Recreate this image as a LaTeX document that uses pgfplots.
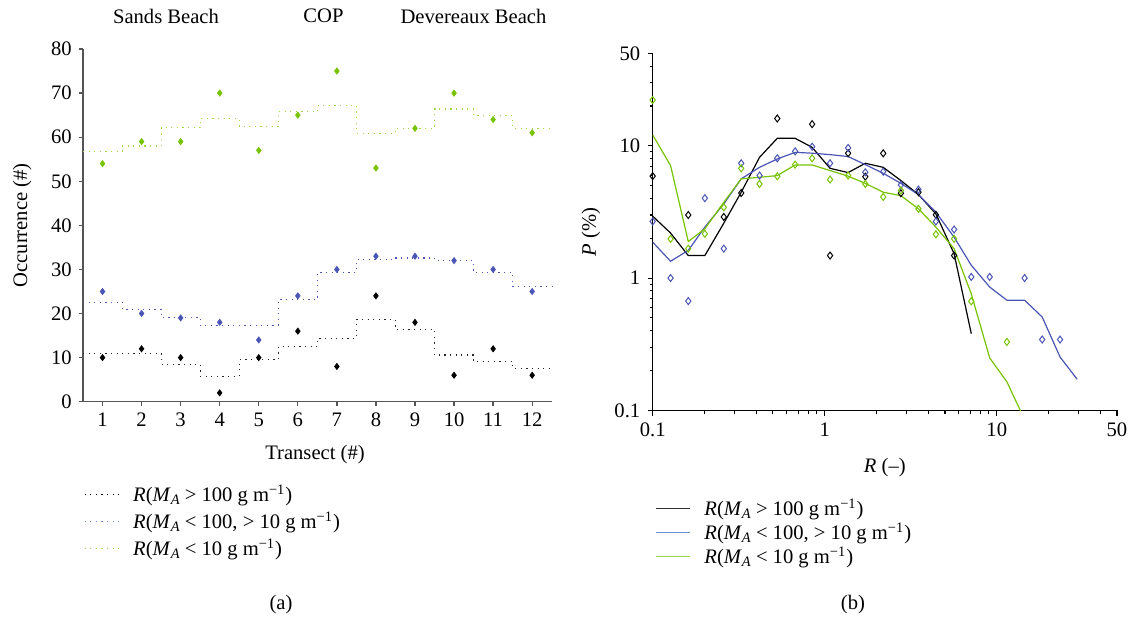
\documentclass[border=0pt]{standalone}
\usepackage{fontspec}
\setmainfont{Liberation Serif}
\usepackage{pgfplots}
\pgfplotsset{compat=1.18}
\definecolor{cgreen}{HTML}{78C300}
\definecolor{cgreenL}{HTML}{9ED84A}
\definecolor{cblue}{HTML}{4A55B5}
\definecolor{cblueL}{HTML}{6E8FD2}
\definecolor{axgray}{HTML}{555555}
\newcommand{\lgA}{\hspace{5pt}\textit{R}(\textit{M}\textsubscript{\textit{A}} \kern-0.5pt> 100 g m\textsuperscript{−1})}
\newcommand{\lgB}{\hspace{5pt}\textit{R}(\textit{M}\textsubscript{\textit{A}} \kern-0.5pt< 100, > 10 g m\textsuperscript{−1})}
\newcommand{\lgC}{\hspace{5pt}\textit{R}(\textit{M}\textsubscript{\textit{A}} \kern-0.5pt< 10 g m\textsuperscript{−1})}
\begin{document}
\fontsize{10.3}{12.4}\selectfont
\begin{tikzpicture}[x=1pt,y=1pt]
\useasboundingbox (0,0) rectangle (566,309);
% ---------------- (a) ----------------
\begin{axis}[
  at={(41.5pt,108.15pt)}, anchor=south west,
  scale only axis, width=234.35pt, height=176.35pt,
  xmin=0.5, xmax=12.5, ymin=0, ymax=80,
  axis x line*=bottom, axis y line*=left,
  axis line style={axgray, line width=0.65pt, -},
  tick align=outside, major tick length=2pt,
  tick style={axgray, line width=0.65pt},
  xtick={1,...,12}, ytick={0,10,...,80},
  /pgf/number format/assume math mode=true,
  xlabel={Transect (\#)}, ylabel={Occurrence (\#)},
  xlabel style={at={(axis description cs:0.495,-0.151)}, anchor=center},
  ylabel style={at={(axis description cs:-0.13,0.5)}, anchor=center},
  clip=false,
  legend cell align=left,
  legend style={at={(-0.003,-0.218)}, anchor=north west, draw=none, fill=none,
    row sep=-0.5pt, inner sep=1pt},
]
\addlegendimage{black, line width=0.55pt, dash pattern=on 0.6pt off 2.2pt}
\addlegendentry{\lgA}
\addlegendimage{cblueL, line width=0.55pt, dash pattern=on 0.6pt off 2.2pt}
\addlegendentry{\lgB}
\addlegendimage{cgreenL, line width=0.55pt, dash pattern=on 0.6pt off 2.2pt}
\addlegendentry{\lgC}
% step lines
\addplot[forget plot, const plot, cgreenL, line width=0.55pt, dash pattern=on 0.6pt off 2.2pt] coordinates {
(0.5,56.7)(1.5,58)(2.5,62.1)(3.5,64.2)(4.5,62.4)(5.5,65.8)(6.5,67.2)(7.5,60.9)(8.5,62)(9.5,66.4)(10.5,64.9)(11.5,62)(12.5,62)};
\addplot[forget plot, const plot, cblue, line width=0.55pt, dash pattern=on 0.6pt off 2.2pt] coordinates {
(0.5,22.6)(1.5,21)(2.5,19.1)(3.5,17.3)(4.5,17.3)(5.5,23.1)(6.5,29.3)(7.5,32.3)(8.5,32.6)(9.5,32)(10.5,29.3)(11.5,26.1)(12.5,26.1)};
\addplot[forget plot, const plot, black!85, line width=0.55pt, dash pattern=on 0.6pt off 2.2pt] coordinates {
(0.5,11)(1.5,11)(2.5,8.5)(3.5,5.8)(4.5,9.5)(5.5,12.5)(6.5,14.3)(7.5,18.6)(8.5,16.4)(9.5,10.6)(10.5,9.1)(11.5,7.6)(12.5,7.6)};
% points
\addplot[forget plot, only marks, mark=diamond*, mark size=1.5pt, cgreen] coordinates {
(1,54)(2,59)(3,59)(4,70)(5,57)(6,65)(7,75)(8,53)(9,62)(10,70)(11,64)(12,61)};
\addplot[forget plot, only marks, mark=diamond*, mark size=1.5pt, cblue] coordinates {
(1,25)(2,20)(3,19)(4,18)(5,14)(6,24)(7,30)(8,33)(9,33)(10,32)(11,30)(12,25)};
\addplot[forget plot, only marks, mark=diamond*, mark size=1.5pt, black] coordinates {
(1,10)(2,12)(3,10)(4,2)(5,10)(6,16)(7,8)(8,24)(9,18)(10,6)(11,12)(12,6)};
\end{axis}
% ---------------- (b) ----------------
\begin{axis}[
  at={(326.35pt,103.85pt)}, anchor=south west,
  scale only axis, width=232.15pt, height=178.45pt,
  xmode=log, ymode=log,
  xmin=0.1, xmax=50, ymin=0.1, ymax=50,
  axis x line*=bottom, axis y line*=left,
  axis line style={black, line width=0.55pt, -},
  tick align=outside, major tick length=2.6pt, minor tick length=1.6pt,
  tick style={black, line width=0.55pt},
  xtick={0.1,1,10,50}, xticklabels={0.1,1,10,50},
  ytick={0.1,1,10,50}, yticklabels={0.1,1,10,50},
  minor xtick={0.2,0.3,0.4,0.5,0.6,0.7,0.8,0.9,2,3,4,5,6,7,8,9,20,30,40},
  minor ytick={0.2,0.3,0.4,0.5,0.6,0.7,0.8,0.9,2,3,4,5,6,7,8,9,20,30,40},
  xlabel={\textit{R} (–)}, ylabel={\textit{P} (\%)},
  xlabel style={at={(axis description cs:0.5,-0.159)}, anchor=center},
  ylabel style={at={(axis description cs:-0.133,0.5)}, anchor=center},
  clip mode=individual,
  legend cell align=left,
  legend style={at={(0.0,-0.23)}, anchor=north west, draw=none, fill=none,
    row sep=-2pt, inner sep=1pt},
]
\addlegendimage{black!80, line width=0.6pt}
\addlegendentry{\lgA}
\addlegendimage{cblueL, line width=0.6pt}
\addlegendentry{\lgB}
\addlegendimage{cgreenL, line width=0.6pt}
\addlegendentry{\lgC}
\addplot[forget plot, black, line width=0.6pt] coordinates {
(0.1,2.94)(0.127,2.19)(0.161,1.48)(0.201,1.48)(0.259,2.6)(0.327,4.46)(0.418,8.19)(0.530,11.4)(0.673,11.4)(0.845,9.74)(1.074,6.76)(1.368,6.28)(1.722,7.38)(2.188,6.88)(2.773,5.46)(3.508,4.28)(4.426,3.06)(5.649,1.53)(7.112,0.38)};
\addplot[forget plot, cblue, line width=0.6pt] coordinates {
(0.1,1.87)(0.127,1.34)(0.161,1.62)(0.201,2.43)(0.259,3.64)(0.327,5.63)(0.418,6.88)(0.530,7.96)(0.673,8.93)(0.845,8.8)(1.074,8.58)(1.368,8.3)(1.722,7.21)(2.188,6.2)(2.773,5.2)(3.508,4.28)(4.426,3.15)(5.649,2.04)(7.112,1.25)(9.10,0.855)(11.46,0.68)(14.52,0.68)(18.37,0.508)(23.33,0.253)(29.3,0.172)};
\addplot[forget plot, cgreen, line width=0.6pt] coordinates {
(0.1,12.1)(0.127,7.1)(0.161,1.89)(0.201,2.36)(0.259,3.74)(0.327,5.63)(0.418,5.78)(0.530,5.96)(0.673,7.17)(0.845,7.17)(1.074,6.5)(1.368,5.9)(1.722,5.2)(2.188,4.46)(2.773,4.2)(3.508,3.34)(4.426,2.43)(5.649,1.67)(7.112,0.76)(9.10,0.249)(11.46,0.164)(14.52,0.085)};
\addplot[forget plot, only marks, mark=diamond, mark size=1.75pt, mark options={line width=0.5pt}, black] coordinates {
(0.1,5.9)(0.161,3.0)(0.259,2.9)(0.327,4.4)(0.530,16.1)(0.845,14.6)(1.074,1.48)(1.368,8.8)(1.722,5.85)(2.188,8.78)(2.773,4.38)(3.508,4.46)(4.426,3.01)(5.649,1.48)};
\addplot[forget plot, only marks, mark=diamond, mark size=1.75pt, mark options={line width=0.5pt}, cblue] coordinates {
(0.1,2.68)(0.127,1.0)(0.161,0.67)(0.201,4.02)(0.259,1.67)(0.327,7.38)(0.418,5.96)(0.530,8.05)(0.673,9.09)(0.845,9.86)(1.074,7.38)(1.368,9.64)(1.722,6.31)(2.188,6.38)(2.773,5.07)(3.508,4.67)(4.426,2.68)(5.649,2.33)(7.112,1.02)(9.10,1.02)(14.52,1.0)(18.37,0.343)(23.33,0.343)};
\addplot[forget plot, only marks, mark=diamond, mark size=1.75pt, mark options={line width=0.5pt}, cgreen] coordinates {
(0.1,22.2)(0.127,1.98)(0.161,1.67)(0.201,2.16)(0.259,3.43)(0.327,6.76)(0.418,5.15)(0.530,5.89)(0.673,7.21)(0.845,8.05)(1.074,5.56)(1.368,5.96)(1.722,5.15)(2.188,4.11)(2.773,4.59)(3.508,3.34)(4.426,2.14)(5.649,1.98)(7.112,0.667)(11.46,0.329)};
\end{axis}
% titles and panel letters
\node at (83,301) {Sands Beach};
\node at (161.75,301) {COP};
\node at (236.75,301) {Devereaux Beach};
\node at (140.5,6.5) {(a)};
\node at (426.5,6.5) {(b)};
\end{tikzpicture}
\end{document}
